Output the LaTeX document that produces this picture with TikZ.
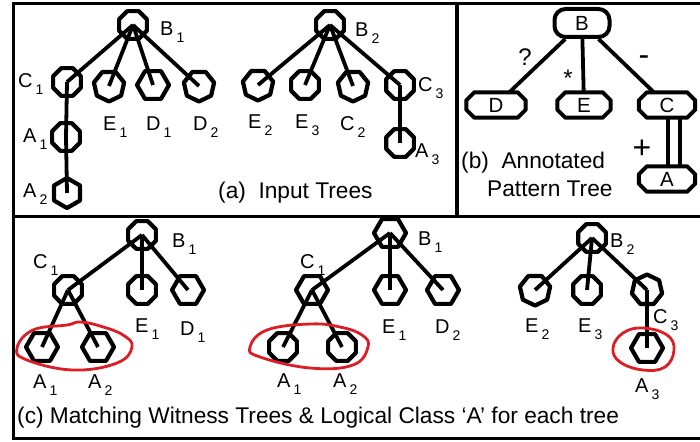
\documentclass[tikz,border=0pt]{standalone}
\usepackage{fontspec}
\setmainfont{Liberation Sans}
\usetikzlibrary{shapes.geometric}

\definecolor{loopred}{RGB}{220,30,36}

% label with a detached, lowered index
\newcommand\tlab[2]{#1\hspace{3pt}\raisebox{-7pt}{\fontsize{14}{14}\selectfont #2}}

\tikzset{
  tn/.style={draw, line width=4.2pt, line join=round, regular polygon, regular polygon sides=8,
             minimum size=30pt, inner sep=0pt},
  s6/.style={tn, regular polygon sides=6, minimum size=32pt},
  s6v/.style={tn, regular polygon sides=6, shape border rotate=30},
  s7/.style={tn, regular polygon sides=7, minimum size=31pt},
  s7d/.style={tn, regular polygon sides=7, minimum size=31pt, shape border rotate=180},
  tline/.style={line width=3.8pt},
  lbl/.style={anchor=base west, inner sep=0pt, font=\fontsize{20}{20}\selectfont},
  captxt/.style={anchor=base west, inner sep=0pt, font=\fontsize{22.7}{26}\selectfont},
  panelline/.style={line width=3.6pt},
  pboxline/.style={line width=4pt, line join=round},
  % pattern-tree node: text box with a chamfered outline
  pbox/.style={rectangle, minimum height=25pt, inner sep=0pt, font=\fontsize{20.5}{20}\selectfont,
    append after command={\pgfextra{\draw[pboxline]
      ([xshift=8pt]\tikzlastnode.north west) -- ([xshift=-8pt]\tikzlastnode.north east)
      -- ([yshift=-8pt]\tikzlastnode.north east) -- ([yshift=8pt]\tikzlastnode.south east)
      -- ([xshift=-8pt]\tikzlastnode.south east) -- ([xshift=8pt]\tikzlastnode.south west)
      -- ([yshift=8pt]\tikzlastnode.south west) -- ([yshift=-8pt]\tikzlastnode.north west)
      -- cycle;}}},
  pround/.style={draw, line width=4pt, rounded corners=11pt, minimum width=55pt,
               minimum height=28pt, inner sep=0pt, font=\fontsize{20.5}{20}\selectfont},
  ann/.style={inner sep=0pt, font=\fontsize{24}{24}\selectfont},
  redloop/.style={draw=loopred, line width=2.8pt}
}

\begin{document}
\begin{tikzpicture}[x=1pt,y=-1pt]
\useasboundingbox (0,0) rectangle (700,441);

% panel frames
\draw[panelline] (703,3.5) -- (13.5,3.5) -- (13.5,438.5) -- (703,438.5);
\draw[panelline] (13.5,216.5) -- (703,216.5);
\draw[panelline] (457,3.5) -- (457,216.5);

% ---------- (a) input trees ----------
\node[tn]  (a1b1) at (133,25) {};
\node[tn]  (a1c1) at (67,82) {};
\node[s7d] (a1e1) at (109,86) {};
\node[s6]  (a1d1) at (153,85) {};
\node[s7d] (a1d2) at (199,86) {};
\node[tn]  (a1a1) at (66,137) {};
\node[s6v] (a1a2) at (67,193) {};
\draw[tline] (a1b1.center) -- (a1c1.center);
\draw[tline] (a1b1.center) -- (a1e1.center);
\draw[tline] (a1b1.center) -- (a1d1.center);
\draw[tline] (a1b1.center) -- (a1d2.center);
\draw[tline] (a1c1.center) -- (a1a1.center) -- (a1a2.center);

\node[lbl] (ta1b1) at (160,36)  {\tlab{B}{1}};
\node[lbl] (ta1c1) at (18,88)   {\tlab{C}{1}};
\node[lbl] (ta1e1) at (103,130) {\tlab{E}{1}};
\node[lbl] (ta1d1) at (146,130) {\tlab{D}{1}};
\node[lbl] (ta1d2) at (193,130) {\tlab{D}{2}};
\node[lbl] (ta1a1) at (23,142)  {\tlab{A}{1}};
\node[lbl] (ta1a2) at (23,197)  {\tlab{A}{2}};

\node[tn]  (a2b2) at (330,25) {};
\node[s7d] (a2e2) at (258,85) {};
\node[tn]  (a2e3) at (305,85) {};
\node[s7d] (a2c2) at (353,86) {};
\node[tn]  (a2c3) at (400,85) {};
\node[tn]  (a2a3) at (400,143) {};
\draw[tline] (a2b2.center) -- (a2e2.center);
\draw[tline] (a2b2.center) -- (a2e3.center);
\draw[tline] (a2b2.center) -- (a2c2.center);
\draw[tline] (a2b2.center) -- (a2c3.center);
\draw[tline] (a2c3.center) -- (a2a3.center);

\node[lbl] (ta2b2) at (355,37)  {\tlab{B}{2}};
\node[lbl] (ta2e2) at (248,128) {\tlab{E}{2}};
\node[lbl] (ta2e3) at (295,128) {\tlab{E}{3}};
\node[lbl] (ta2c2) at (340,130) {\tlab{C}{2}};
\node[lbl] (ta2c3) at (418,92)  {\tlab{C}{3}};
\node[lbl] (ta2a3) at (415,157) {\tlab{A}{3}};

\node[captxt] (capa) at (218,198) {(a)\ \ Input Trees};

% ---------- (b) annotated pattern tree ----------
\node[pround] (pb) at (582,23) {B};
\node[pbox, minimum width=59pt] (pd) at (496,105) {D};
\node[pbox, minimum width=53pt] (pe) at (584,105) {E};
\node[pbox, minimum width=56pt] (pc) at (667,105) {C};
\node[pbox, minimum width=56pt] (pa) at (667,179) {A};
\draw[tline] (pb) -- (pd);
\draw[tline] (pb) -- (pe);
\draw[tline] (pb) -- (pc);
\draw[line width=3.4pt] ([xshift=1pt]pc.south) -- ([xshift=1pt]pa.north);
\draw[line width=3.4pt] ([xshift=13pt]pc.south) -- ([xshift=13pt]pa.north);

\node[ann] (qd) at (525,57) {?};
\node[ann] (qe) at (568,78) {*};
\node[ann, font=\fontsize{32}{32}\selectfont] (qc) at (644,61) {-};
\node[ann, font=\fontsize{32}{32}\selectfont] (qa) at (642,149) {+};

\node[captxt] (capb1) at (461,168) {(b)\ \ Annotated};
\node[captxt] (capb2) at (487,196) {Pattern Tree};

% ---------- (c) matching witness trees ----------
\node[tn]  (c1b1) at (142,235) {};
\node[tn]  (c1c1) at (68,290) {};
\node[tn]  (c1e1) at (142,290) {};
\node[s6]  (c1d1) at (188,290) {};
\node[s6]  (c1a1) at (42,347) {};
\node[s6]  (c1a2) at (98,347) {};
\draw[tline] (c1b1.center) -- (c1c1.center);
\draw[tline] (c1b1.center) -- (c1e1.center);
\draw[tline] (c1b1.center) -- (c1d1.center);
\draw[tline] (c1c1.center) -- (c1a1.center);
\draw[tline] (c1c1.center) -- (c1a2.center);
\draw[redloop] plot[smooth cycle, tension=0.7] coordinates
  {(17,348) (33,330) (67,325) (80,322) (100,326) (123,335) (132,347)
   (117,363) (73,370) (27,360)};

\node[lbl] (tc1b1) at (172,247) {\tlab{B}{1}};
\node[lbl] (tc1c1) at (33,268)  {\tlab{C}{1}};
\node[lbl] (tc1e1) at (135,332) {\tlab{E}{1}};
\node[lbl] (tc1d1) at (180,335) {\tlab{D}{1}};
\node[lbl] (tc1a1) at (33,388)  {\tlab{A}{1}};
\node[lbl] (tc1a2) at (88,388)  {\tlab{A}{2}};

\node[s6]  (c2b1) at (390,233) {};
\node[s6]  (c2c1) at (312,290) {};
\node[s6]  (c2e1) at (390,290) {};
\node[s6]  (c2d2) at (443,290) {};
\node[tn]  (c2a1) at (283,347) {};
\node[tn]  (c2a2) at (342,347) {};
\draw[tline] (c2b1.center) -- (c2c1.center);
\draw[tline] (c2b1.center) -- (c2e1.center);
\draw[tline] (c2b1.center) -- (c2d2.center);
\draw[tline] (c2c1.center) -- (c2a1.center);
\draw[tline] (c2c1.center) -- (c2a2.center);
\draw[redloop] plot[smooth cycle, tension=0.7] coordinates
  {(250,347) (267,330) (310,324) (340,327) (362,335) (368,347)
   (353,365) (310,368) (260,357)};

\node[lbl] (tc2b1) at (418,245) {\tlab{B}{1}};
\node[lbl] (tc2c1) at (300,268) {\tlab{C}{1}};
\node[lbl] (tc2e1) at (382,333) {\tlab{E}{1}};
\node[lbl] (tc2d2) at (435,333) {\tlab{D}{2}};
\node[lbl] (tc2a1) at (277,387) {\tlab{A}{1}};
\node[lbl] (tc2a2) at (333,387) {\tlab{A}{2}};

\node[tn]  (c3b2) at (592,238) {};
\node[s7d] (c3e2) at (535,290) {};
\node[tn]  (c3e3) at (587,290) {};
\node[s7]  (c3c3) at (647,290) {};
\node[s6]  (c3a3) at (647,348) {};
\draw[tline] (c3b2.center) -- (c3e2.center);
\draw[tline] (c3b2.center) -- (c3e3.center);
\draw[tline] (c3b2.center) -- (c3c3.center);
\draw[tline] (c3c3.center) -- (c3a3.center);
\draw[redloop] plot[smooth cycle, tension=0.7] coordinates
  {(613,348) (623,333) (643,328) (667,335) (674,350) (665,367) (643,370) (620,362)};

\node[lbl] (tc3b2) at (610,247) {\tlab{B}{2}};
\node[lbl] (tc3e2) at (525,332) {\tlab{E}{2}};
\node[lbl] (tc3e3) at (578,332) {\tlab{E}{3}};
\node[lbl] (tc3c3) at (653,323) {\tlab{C}{3}};
\node[lbl] (tc3a3) at (635,392) {\tlab{A}{3}};

\node[captxt] (capc) at (17,423) {(c) Matching Witness Trees \& Logical Class ‘A’ for each tree};

\end{tikzpicture}
\end{document}
